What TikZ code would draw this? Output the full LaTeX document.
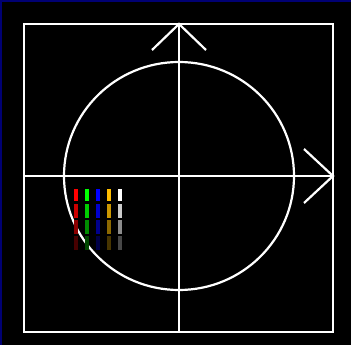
\documentclass[tikz,border=0pt]{standalone}
\usetikzlibrary{positioning}
\definecolor{gold}{RGB}{255,190,0}

\begin{document}
\begin{tikzpicture}[
x=1pt, y=-1pt,
axis/.style={white, line width=2.2pt},
bar/.style={line width=3.2pt},
edge/.style={draw=blue!45!black, line width=1.6pt}
]

% Background
\useasboundingbox (0,0) rectangle (351,345);
\fill[black] (0,0) rectangle (351,345);
\draw[edge] (0.8,345) -- (0.8,0.8) -- (351,0.8);

% Frame, circle and axes
\coordinate (origin) at (179,176);
\coordinate (xtip) at (333,176);
\coordinate (ytip) at (179,24);
\draw[axis] (24,24) rectangle (333,332);
\draw[axis] (origin) ellipse (115 and 114);
\draw[axis] (24,176) -- (xtip);
\draw[axis] (179,332) -- (ytip);
\draw[axis] (304,149) -- (xtip) -- (304,203);
\draw[axis] (152,50) -- (ytip) -- (206,50);

% Colour bars
\foreach \xx/\cc in {76/red, 87/green, 98/blue, 109/gold, 120/white}{
  \draw[bar, \cc] (\xx,189) -- (\xx,201);
  \draw[bar, \cc!80!black] (\xx,204) -- (\xx,218);
  \draw[bar, \cc!55!black] (\xx,220) -- (\xx,234);
  \draw[bar, \cc!28!black] (\xx,236) -- (\xx,250);
}

\end{tikzpicture}
\end{document}
